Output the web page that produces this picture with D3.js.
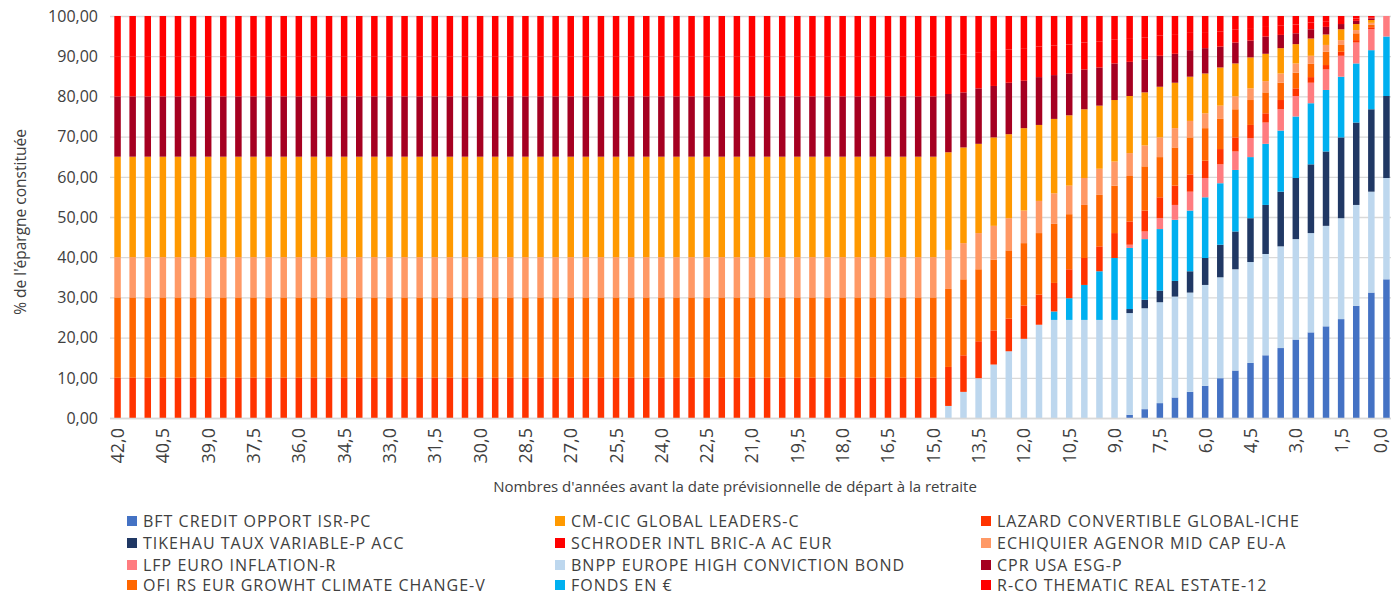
<!DOCTYPE html>
<html><head><meta charset="utf-8">
<script src="https://cdn.jsdelivr.net/npm/d3@7"></script>
<style>html,body{margin:0;padding:0;background:#fff;}</style>
</head><body>
<svg id="chart" width="1391" height="596"></svg>
<script>
// ---- categories (years before retirement) ----
const years = [42,41.5,41,40.5,40,39.5,39,38.5,38,37.5,37,36.5,36,35.5,35,34.5,34,33.5,33,32.5,32,31.5,31,30.5,30,29.5,29,28.5,28,27.5,27,26.5,26,25.5,25,24.5,24,23.5,23,22.5,22,21.5,21,20.5,20,19.5,19,18.5,18,17.5,17,16.5,16,15.5,15,14.5,14,13.5,13,12.5,12,11.5,11,10.5,10,9.5,9,8.5,8,7.5,7,6.5,6,5.5,5,4.5,4,3.5,3,2.5,2,1.5,1,0.5,0];
const tickYears = [42,40.5,39,37.5,36,34.5,33,31.5,30,28.5,27,25.5,24,22.5,21,19.5,18,16.5,15,13.5,12,10.5,9,7.5,6,4.5,3,1.5,0];
const tickLabels = ["42,0","40,5","39,0","37,5","36,0","34,5","33,0","31,5","30,0","28,5","27,0","25,5","24,0","22,5","21,0","19,5","18,0","16,5","15,0","13,5","12,0","10,5","9,0","7,5","6,0","4,5","3,0","1,5","0,0"];
const yTicks = [0,10,20,30,40,50,60,70,80,90,100];
const yTickLabels = ["0,00","10,00","20,00","30,00","40,00","50,00","60,00","70,00","80,00","90,00","100,00"];

// ---- series values (% of savings), one per bar, 42,0 -> 0,0 ----
const bft = [0,0,0,0,0,0,0,0,0,0,0,
 0,0,0,0,0,0,0,0,0,0,0,
 0,0,0,0,0,0,0,0,0,0,0,
 0,0,0,0,0,0,0,0,0,0,0,
 0,0,0,0,0,0,0,0,0,0,0,
 0,0,0,0,0,0,0,0,0,0,0,0,
 0.8,2.2,3.7,5.1,6.5,8.0,9.9,11.8,13.7,15.6,17.4,19.5,21.3,22.8,24.6,27.9,31.2,34.5];
const bnpp = [0,0,0,0,0,0,0,0,0,0,0,
 0,0,0,0,0,0,0,0,0,0,0,
 0,0,0,0,0,0,0,0,0,0,0,
 0,0,0,0,0,0,0,0,0,0,0,
 0,0,0,0,0,0,0,0,0,0,0,
 3.0,6.5,9.9,13.3,16.6,19.7,23.2,24.4,24.4,24.4,24.4,24.4,
 25.3,25.1,25.1,25.1,24.7,25.1,25.1,25.2,25.1,25.2,25.3,25.0,24.7,25.0,25.1,25.1,25.1,25.2];
const tikehau = [0,0,0,0,0,0,0,0,0,0,0,
 0,0,0,0,0,0,0,0,0,0,0,
 0,0,0,0,0,0,0,0,0,0,0,
 0,0,0,0,0,0,0,0,0,0,0,
 0,0,0,0,0,0,0,0,0,0,0,
 0,0,0,0,0,0,0,0,0,0,0,0,
 1.0,2.1,2.9,3.9,5.3,6.7,8.1,9.4,10.9,12.2,13.6,15.2,17.1,18.5,20.1,20.5,20.5,20.4];
const fonds = [0,0,0,0,0,0,0,0,0,0,0,
 0,0,0,0,0,0,0,0,0,0,0,
 0,0,0,0,0,0,0,0,0,0,0,
 0,0,0,0,0,0,0,0,0,0,0,
 0,0,0,0,0,0,0,0,0,0,0,
 0,0,0,0,0,0,0,2.1,5.4,8.7,12.1,15.4,
 15.2,15.1,15.3,15.2,15.1,15.1,15.3,15.3,15.2,15.2,15.2,15.3,15.2,15.3,15.1,14.7,14.7,14.8];
const lfp = [0,0,0,0,0,0,0,0,0,0,0,
 0,0,0,0,0,0,0,0,0,0,0,
 0,0,0,0,0,0,0,0,0,0,0,
 0,0,0,0,0,0,0,0,0,0,0,
 0,0,0,0,0,0,0,0,0,0,0,
 0,0,0,0,0,0,0,0,0,0,0,0,
 0.8,1.9,2.7,3.7,4.7,4.8,4.7,4.6,4.7,5.3,5.3,5.1,5.1,5.1,5.2,5.2,5.2,5.1];
const lazard = [10,10,10,10,10,10,10,10,10,10,10,
 10,10,10,10,10,10,10,10,10,10,10,
 10,10,10,10,10,10,10,10,10,10,10,
 10,10,10,10,10,10,10,10,10,10,10,
 10,10,10,10,10,10,10,10,10,10,10,
 9.7,9.1,9.2,8.5,8.1,8.3,7.5,7.1,7.2,6.7,6.2,6.2,
 5.8,5.2,5.2,4.8,4.3,4.3,3.8,3.5,3.3,2.3,2.3,1.9,1.4,1.1,1.0,0.6,0.5,0];
const ofi = [20,20,20,20,20,20,20,20,20,20,20,
 20,20,20,20,20,20,20,20,20,20,20,
 20,20,20,20,20,20,20,20,20,20,20,
 20,20,20,20,20,20,20,20,20,20,20,
 20,20,20,20,20,20,20,20,20,20,20,
 19.4,18.9,17.9,17.6,17.0,15.5,15.3,14.7,13.7,13.2,12.8,11.8,
 11.3,11.0,10.0,9.5,9.2,8.1,7.5,7.0,6.2,5.2,4.3,3.9,3.3,3.3,1.7,1.7,0.6,0];
const echiquier = [10,10,10,10,10,10,10,10,10,10,10,
 10,10,10,10,10,10,10,10,10,10,10,
 10,10,10,10,10,10,10,10,10,10,10,
 10,10,10,10,10,10,10,10,10,10,10,
 10,10,10,10,10,10,10,10,10,10,10,
 9.7,9.0,9.0,8.4,8.0,8.1,8.0,7.6,7.1,6.7,6.5,6.0,
 5.7,5.2,4.9,4.8,4.1,3.7,3.3,3.2,2.9,2.8,2.3,2.3,2.0,1.7,1.2,0.8,0.5,0];
const cmcic = [25,25,25,25,25,25,25,25,25,25,25,
 25,25,25,25,25,25,25,25,25,25,25,
 25,25,25,25,25,25,25,25,25,25,25,
 25,25,25,25,25,25,25,25,25,25,25,
 25,25,25,25,25,25,25,25,25,25,25,
 24.3,23.8,22.2,22.0,20.9,20.5,18.9,18.5,17.5,17.1,15.7,15.3,
 14.2,13.2,12.6,11.3,11.0,9.9,9.5,8.2,7.7,6.8,6.3,4.8,4.3,2.6,2.7,1.5,0.7,0];
const cpr = [15,15,15,15,15,15,15,15,15,15,15,
 15,15,15,15,15,15,15,15,15,15,15,
 15,15,15,15,15,15,15,15,15,15,15,
 15,15,15,15,15,15,15,15,15,15,15,
 15,15,15,15,15,15,15,15,15,15,15,
 14.5,13.7,13.8,12.8,12.8,11.8,11.9,10.9,10.4,9.9,9.5,9.1,
 8.5,8.2,7.7,7.2,6.6,6.3,5.2,5.2,4.2,4.3,3.3,2.7,2.3,1.9,1.3,0.8,0.4,0];
const schroder = [10,10,10,10,10,10,10,10,10,10,10,
 10,10,10,10,10,10,10,10,10,10,10,
 10,10,10,10,10,10,10,10,10,10,10,
 10,10,10,10,10,10,10,10,10,10,10,
 10,10,10,10,10,10,10,10,10,10,10,
 9.7,9.5,9.0,8.7,8.3,8.1,7.6,7.4,7.2,6.7,6.4,5.9,
 5.7,5.4,5.0,4.7,4.3,4.0,3.8,3.3,3.1,2.6,2.4,2.2,1.7,1.4,1.0,0.6,0.3,0];
const rco = [10,10,10,10,10,10,10,10,10,10,10,
 10,10,10,10,10,10,10,10,10,10,10,
 10,10,10,10,10,10,10,10,10,10,10,
 10,10,10,10,10,10,10,10,10,10,10,
 10,10,10,10,10,10,10,10,10,10,10,
 9.7,9.5,9.0,8.7,8.3,8.0,7.6,7.3,7.1,6.6,6.4,5.9,
 5.7,5.4,4.9,4.7,4.2,4.0,3.8,3.3,3.0,2.5,2.3,2.1,1.6,1.3,1.0,0.6,0.3,0];

// ---- series meta (stack order bottom -> top) ----
const series = [
  {key:"bft", name:"BFT CREDIT OPPORT ISR-PC", color:"#4472C4", values:bft},
  {key:"bnpp", name:"BNPP EUROPE HIGH CONVICTION BOND", color:"#BDD7EE", values:bnpp},
  {key:"tikehau", name:"TIKEHAU TAUX VARIABLE-P ACC", color:"#203864", values:tikehau},
  {key:"fonds", name:"FONDS EN €", color:"#00B0F0", values:fonds},
  {key:"lfp", name:"LFP EURO INFLATION-R", color:"#FF7C80", values:lfp},
  {key:"lazard", name:"LAZARD CONVERTIBLE GLOBAL-ICHE", color:"#FF3300", values:lazard},
  {key:"ofi", name:"OFI RS EUR GROWHT CLIMATE CHANGE-V", color:"#FF6600", values:ofi},
  {key:"echiquier", name:"ECHIQUIER AGENOR MID CAP EU-A", color:"#FF9966", values:echiquier},
  {key:"cmcic", name:"CM-CIC GLOBAL LEADERS-C", color:"#FF9900", values:cmcic},
  {key:"cpr", name:"CPR USA ESG-P", color:"#A50021", values:cpr},
  {key:"schroder", name:"SCHRODER INTL BRIC-A AC EUR", color:"#FF0000", values:schroder},
  {key:"rco", name:"R-CO THEMATIC REAL ESTATE-12", color:"#FF0000", values:rco}
];
const legendOrder = ["bft","cmcic","lazard","tikehau","schroder","echiquier","lfp","bnpp","cpr","ofi","fonds","rco"];

series.forEach(s => { if (s.values.length !== years.length) throw new Error(s.key + " length " + s.values.length); });

const table = years.map((y, i) => {
  const row = {year: y};
  series.forEach(s => row[s.key] = s.values[i]);
  return row;
});

const svg = d3.select("#chart");
const FONT = "'Open Sans', sans-serif";
const TXT = "#404040";
svg.append("rect").attr("width",1391).attr("height",596).attr("fill","#fff");

const x = d3.scaleBand().domain(years).range([110, 1394]).paddingInner(0.57).paddingOuter(0.285);
const y = d3.scaleLinear().domain([0,100]).range([418, 16]);

// gridlines
svg.append("g").selectAll("line").data(yTicks).join("line")
  .attr("x1",110).attr("x2",1391)
  .attr("y1",d=>y(d)+0.5).attr("y2",d=>y(d)+0.5)
  .attr("stroke","#d9d9d9").attr("stroke-width",1.3);

// bars
const stacked = d3.stack().keys(series.map(s=>s.key))(table);
const colorOf = Object.fromEntries(series.map(s=>[s.key,s.color]));
svg.append("g").selectAll("g").data(stacked).join("g")
  .attr("fill", d=>colorOf[d.key])
  .selectAll("rect").data(d=>d).join("rect")
  .attr("x", d=>x(d.data.year))
  .attr("width", x.bandwidth())
  .attr("y", d=>y(d[1]))
  .attr("height", d=>Math.max(0, y(d[0])-y(d[1])));

// baseline
svg.append("line").attr("x1",110).attr("x2",1391).attr("y1",y(0)+0.5).attr("y2",y(0)+0.5)
  .attr("stroke","#d9d9d9").attr("stroke-width",1.5);

// y tick labels
svg.append("g").selectAll("text").data(yTicks).join("text")
  .attr("x",98).attr("y",d=>y(d)).attr("dy","0.36em")
  .attr("text-anchor","end").attr("font-family",FONT).attr("font-size",16).attr("fill",TXT)
  .text((d,i)=>yTickLabels[i]);

// x tick labels (last one kept inside the frame)
svg.append("g").selectAll("text").data(tickYears).join("text")
  .attr("transform", d=>`translate(${Math.min(x(d)+x.bandwidth()/2, 1381)},428) rotate(-90)`)
  .attr("dy","0.36em").attr("text-anchor","end")
  .attr("font-family",FONT).attr("font-size",18).attr("fill",TXT)
  .text((d,i)=>tickLabels[i]);

// axis titles
svg.append("text").attr("transform","translate(20,222) rotate(-90)")
  .attr("dy","0.36em").attr("text-anchor","middle")
  .attr("font-family",FONT).attr("font-size",15.5).attr("fill",TXT)
  .text("% de l'épargne constituée");
svg.append("text").attr("x",735).attr("y",487).attr("dy","0.36em").attr("text-anchor","middle")
  .attr("font-family",FONT).attr("font-size",15).attr("fill",TXT)
  .text("Nombres d'années avant la date prévisionnelle de départ à la retraite");

// legend
const colX = [127, 555, 981];
const rowY = [521, 543, 565, 585];
const byKey = Object.fromEntries(series.map(s=>[s.key,s]));
const lg = svg.append("g").selectAll("g").data(legendOrder).join("g")
  .attr("transform",(k,i)=>`translate(${colX[i%3]},${rowY[Math.floor(i/3)]})`);
lg.append("rect").attr("x",0).attr("y",-5).attr("width",10).attr("height",10).attr("fill",k=>byKey[k].color);
lg.append("text").attr("x",16).attr("y",0).attr("dy","0.36em")
  .attr("font-family",FONT).attr("font-size",16).attr("letter-spacing",1.0).attr("fill",TXT)
  .text(k=>byKey[k].name);
</script>
</body></html>
